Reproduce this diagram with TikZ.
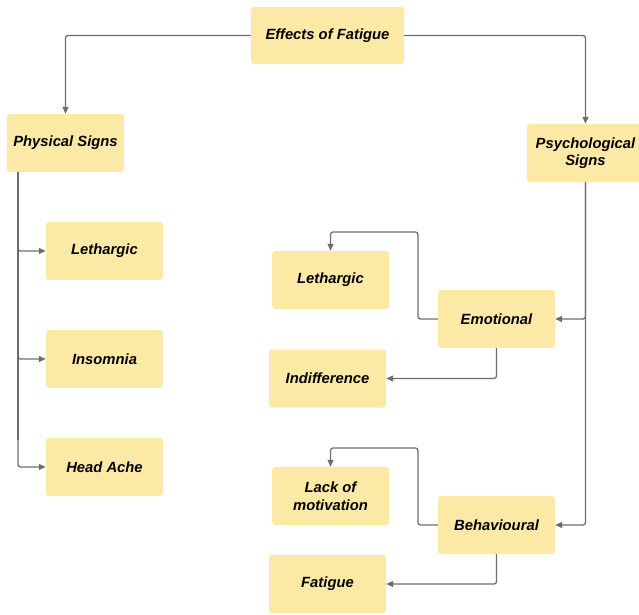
\documentclass[tikz,border=0pt]{standalone}
\usepackage{fontspec}
\setmainfont{Liberation Sans}
\usetikzlibrary{arrows.meta}
\definecolor{boxfill}{HTML}{FCE9A6}
\definecolor{linegray}{HTML}{6E6E6E}
\begin{document}
\begin{tikzpicture}[x=1pt,y=-1pt,
  box/.style={fill=boxfill, rounded corners=3pt, minimum width=117pt, minimum height=58pt, inner sep=2pt, align=center, font=\fontsize{14.8}{17.5}\selectfont\bfseries\itshape, text=black},
  conn/.style={draw=linegray, line width=1.3pt, rounded corners=2.5pt, -{Triangle[length=7pt,width=6pt]}},
  plain/.style={draw=linegray, line width=1.3pt, rounded corners=2.5pt}]
\useasboundingbox (0,0) rectangle (639,614);
\begin{scope}
\clip (0,0) rectangle (639,614);
\node[box, minimum width=153pt, minimum height=57pt] (eff) at (327.5,35.5) {Effects of Fatigue};
\node[box] (phys) at (65.5,143) {Physical Signs};
\node[box] (psy) at (585.5,153) {Psychological\\Signs};
\node[box] (leth1) at (104.5,251) {Lethargic};
\node[box] (ins) at (104.5,359) {Insomnia};
\node[box] (head) at (104.5,467) {Head Ache};
\node[box] (leth2) at (330.5,280) {Lethargic};
\node[box] (emo) at (496.5,319) {Emotional};
\node[box] (ind) at (327.5,378.5) {Indifference};
\node[box] (lack) at (330.5,496) {Lack of\\motivation};
\node[box] (beh) at (496.5,525) {Behavioural};
\node[box] (fat) at (327.5,584) {Fatigue};
\end{scope}

\coordinate (pl) at (18,172);
\draw[conn] (eff.west) -| (phys.north);
\draw[conn] (eff.east) -| (psy.north);

\draw[plain] (pl) -- (18,440);
\draw[conn] (18,200) |- (leth1.west);
\draw[conn] (18,300) |- (ins.west);
\draw[conn] (18,400) |- (head.west);

\draw[conn] (psy.south) |- (emo.east);
\draw[conn] (psy.south) |- (beh.east);

\draw[conn] (emo.west) -| (418,232) -| (leth2.north);
\draw[conn] (emo.south) |- (ind.east);
\draw[conn] (beh.west) -| (418,448) -| (lack.north);
\draw[conn] (beh.south) |- (fat.east);
\end{tikzpicture}
\end{document}
